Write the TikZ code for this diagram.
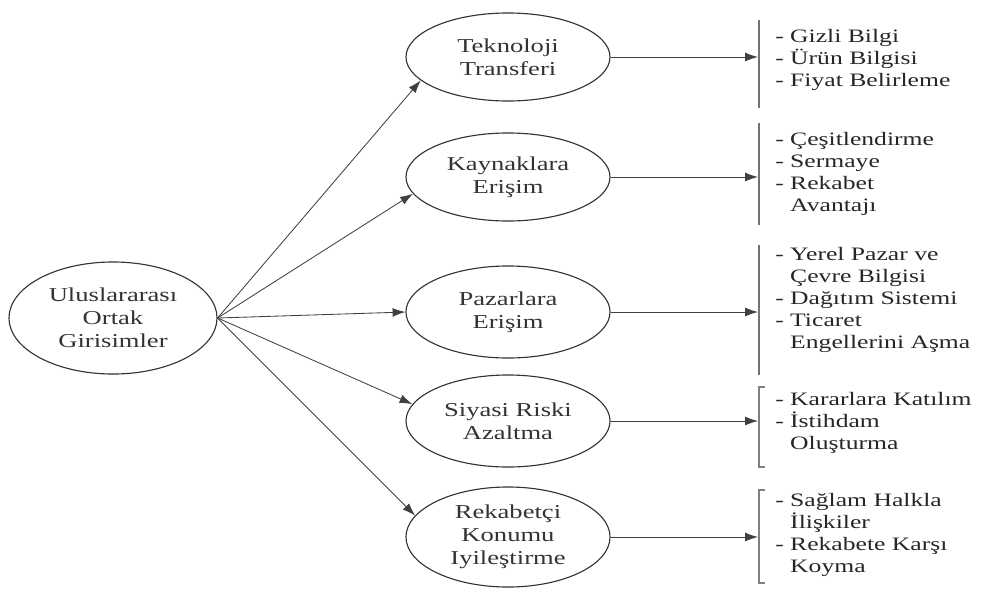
\documentclass[tikz,border=0pt]{standalone}
\usepackage{fontspec}
\setmainfont[FakeStretch=1.35]{Liberation Serif}
\usepackage{tikz}
\usetikzlibrary{shapes.geometric}
\usetikzlibrary{arrows.meta}
\tikzset{oval/.style={draw=black!80,line width=0.8pt,ellipse,inner sep=0pt,minimum width=5.1cm,minimum height=2.2cm,align=center,text=black!80,font=\fontsize{14}{16.3}\selectfont}}
\tikzset{items/.style={align=left,anchor=west,inner sep=0pt,text=black!85,font=\fontsize{13.5}{15.6}\selectfont}}
\tikzset{arr/.style={-{Latex[length=3.2mm,width=2.2mm]},black!75,line width=0.6pt}}
\tikzset{bar/.style={black!55,line width=2pt}}
\tikzset{brk/.style={black!50,line width=1pt}}
\newcommand{\ind}{\hphantom{- }}

\begin{document}
\begin{tikzpicture}[x=0.025cm,y=-0.025cm]
	\useasboundingbox (0,0) rectangle (992,593);
	\node[oval,minimum width=5.2cm,minimum height=2.8cm] (uog) at (113,318) {Uluslararası\\Ortak\\Girisimler};
	\node[oval] (tek) at (508,57) {Teknoloji\\Transferi};
	\node[oval] (kay) at (508,177) {Kaynaklara\\Erişim};
	\node[oval,minimum height=2.3cm] (paz) at (508,312) {Pazarlara\\Erişim};
	\node[oval,minimum height=2.3cm] (siy) at (508,421) {Siyasi Riski\\Azaltma};
	\node[oval,minimum height=2.5cm] (rek) at (508,537) {Rekabetçi\\Konumu\\Iyileştirme};
	\draw[arr] (uog.east) -- (tek.195);
	\draw[arr] (uog.east) -- (kay.190);
	\draw[arr] (uog.east) -- (paz.west);
	\draw[arr] (uog.east) -- (siy.170);
	\draw[arr] (uog.east) -- (rek.167);
	\coordinate (b1) at (758,57);
	\coordinate (b2) at (758,177);
	\coordinate (b3) at (758,312);
	\coordinate (b4) at (758,421);
	\coordinate (b5) at (758,537);
	\draw[arr] (tek.east) -- (b1);
	\draw[arr] (kay.east) -- (b2);
	\draw[arr] (paz.east) -- (b3);
	\draw[arr] (siy.east) -- (b4);
	\draw[arr] (rek.east) -- (b5);
	\draw[bar] (759,20) -- (759,108);
	\draw[bar] (759,123) -- (759,225);
	\draw[bar] (759,245) -- (759,375);
	\draw[brk] (765,387) -- (759,387) -- (759,467) -- (765,467);
	\draw[brk] (765,490) -- (759,490) -- (759,583) -- (765,583);
	\node[items] (l1) at (775,60) {- Gizli Bilgi\\- Ürün Bilgisi\\- Fiyat Belirleme};
	\node[items] (l2) at (775,174) {- Çeşitlendirme\\- Sermaye\\- Rekabet\\\ind Avantajı};
	\node[items] (l3) at (775,300) {- Yerel Pazar ve\\\ind Çevre Bilgisi\\- Dağıtım Sistemi\\- Ticaret\\\ind Engellerini Aşma};
	\node[items] (l4) at (775,423) {- Kararlara Katılım\\- İstihdam\\\ind Oluşturma};
	\node[items] (l5) at (775,535) {- Sağlam Halkla\\\ind İlişkiler\\- Rekabete Karşı\\\ind Koyma};
\end{tikzpicture}
\end{document}
